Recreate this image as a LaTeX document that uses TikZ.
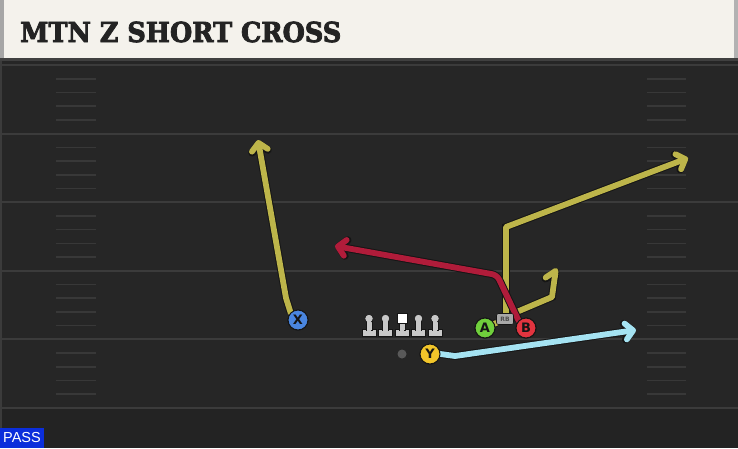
\documentclass[tikz,border=0pt]{standalone}
\usepackage{fontspec}
\setmainfont{DejaVu Sans}
\newfontfamily\titlefont[BoldFeatures={FakeBold=3}]{DejaVu Serif}
\newfontfamily\passfont{Liberation Sans}
\usetikzlibrary{arrows.meta}
\definecolor{fieldbg}{HTML}{262626}
\definecolor{titlebg}{HTML}{F4F2EC}
\definecolor{titletext}{HTML}{232323}
\definecolor{yardcol}{HTML}{3B3B3B}
\definecolor{hashcol}{HTML}{383838}
\definecolor{yroute}{HTML}{BDB54A}
\definecolor{rroute}{HTML}{B01C3A}
\definecolor{broute}{HTML}{A5E3F2}
\definecolor{xcol}{HTML}{4A86E0}
\definecolor{acol}{HTML}{70CF3C}
\definecolor{bcol}{HTML}{E2343F}
\definecolor{ycol}{HTML}{F2C52A}
\definecolor{rbcol}{HTML}{A8A8A8}
\definecolor{passblue}{HTML}{0B2EDB}
\definecolor{linecol}{HTML}{C8C8C8}
\definecolor{outl}{HTML}{151515}
\tikzset{
  yardline/.style={draw=yardcol, line width=2pt},
  hashmark/.style={draw=hashcol, line width=1.6pt},
  route/.style={line width=5.8pt, line cap=round, line join=round,
    preaction={draw=outl, line width=7.8pt}},
  tipped/.style={-{Straight Barb[length=7.5pt,width=16pt,round]}},
  harpoon/.style={-{Straight Barb[length=8pt,width=18pt,left,round]}},
  player/.style={circle, minimum size=20pt, inner sep=0pt, draw=outl, line width=1pt,
    font=\bfseries\fontsize{13}{13}\selectfont, text=outl},
  rbtag/.style={rounded corners=2pt, fill=rbcol, draw=outl, line width=0.6pt, minimum width=17pt,
    minimum height=11pt, inner sep=0pt, font=\bfseries\fontsize{6}{6}\selectfont, text=black!70},
  lineman/.pic={
    \fill[linecol, draw=outl, line width=0.6pt] (-7,329.5) rectangle (7,336);
    \fill[linecol, draw=outl, line width=0.6pt] (-3,320) rectangle (3,330);
    \fill[linecol, draw=outl, line width=0.6pt] (0,318.5) circle (4.2);
    \fill[linecol] (-2.4,320.5) rectangle (2.4,330.6);
  },
  centerman/.pic={
    \fill[linecol, draw=outl, line width=0.6pt] (-7,329.5) rectangle (7,336);
    \fill[linecol, draw=outl, line width=0.6pt] (-3,322) rectangle (3,330);
    \fill[white, draw=outl, line width=0.6pt] (-5.2,313.5) rectangle (5.2,323);
    \fill[linecol] (-2.4,323.5) rectangle (2.4,330.6);
  }
}
\begin{document}
\begin{tikzpicture}[x=1pt,y=-1pt]
\useasboundingbox (0,0) rectangle (738,448);
% field
\fill[fieldbg] (0,0) rectangle (738,448);
\fill[fieldbg!92!black] (0,409) rectangle (738,448);
\fill[yardcol] (0,60) rectangle (2,448);
% yard lines
\foreach \k in {0,...,5}
  \draw[yardline] (0,65+68.6*\k) -- (738,65+68.6*\k);
% hash marks
\foreach \k in {0,...,4}
  \foreach \m in {1,...,4}{
    \draw[hashmark] (56,65+68.6*\k+13.72*\m) -- (96,65+68.6*\k+13.72*\m);
    \draw[hashmark] (647,65+68.6*\k+13.72*\m) -- (686,65+68.6*\k+13.72*\m);
  }
% title bar
\fill[black!75] (0,57) rectangle (738,61);
\fill[titlebg] (0,0) rectangle (738,58);
\fill[gray!70] (0,0) rectangle (4,58);
\fill[gray!60] (734,0) rectangle (738,58);
\node[anchor=base west, inner sep=0pt, text=titletext, xscale=0.93,
  font=\titlefont\bfseries\fontsize{27.5}{27.5}\selectfont] (title) at (20,42) {MTN Z SHORT CROSS};
% players (placement)
\node[player, fill=xcol] (X) at (298,320) {X};
\node[player, fill=acol] (A) at (485,328) {A};
\node[player, fill=bcol] (B) at (526,328) {B};
\node[player, fill=ycol] (Y) at (430,354) {Y};
\node[rbtag] (RB) at (505,319) {RB};
\node[circle, fill=gray!70!black, minimum size=9pt, inner sep=0pt] (ball) at (402,354) {};
% route points
\coordinate (xbend) at (286,298);
\coordinate (xtip) at (258,140);
\coordinate (zcorner) at (506,227);
\coordinate (ztip) at (688,158);
\coordinate (rbflat) at (552,297);
\coordinate (rbtip) at (556,268);
\coordinate (bbend) at (497,275);
\coordinate (btip) at (335,246);
\coordinate (ybend) at (455,356);
\coordinate (ytip) at (636,330);
% routes
\draw[route, draw=yroute, tipped] (X.north west) -- (xbend) -- (xtip);
\draw[route, draw=yroute] (A) -- (RB);
\draw[route, draw=yroute, tipped] (RB.north -| zcorner) -- (zcorner) -- (ztip);
\draw[route, draw=yroute, harpoon] (RB.north east) -- (rbflat) -- (rbtip);
\draw[route, draw=rroute, tipped, rounded corners=5pt] (B.north west) -- (bbend) -- (btip);
\draw[route, draw=broute, tipped] (Y.east) -- (ybend) -- (ytip);
% players drawn over routes
\node[player, fill=xcol] at (X) {X};
\node[player, fill=acol] at (A) {A};
\node[player, fill=bcol] at (B) {B};
\node[player, fill=ycol] at (Y) {Y};
\node[rbtag] at (RB) {RB};
% offensive line
\pic at (369,0) {lineman};
\pic at (385.5,0) {lineman};
\pic at (402,0) {centerman};
\pic at (418.5,0) {lineman};
\pic at (435,0) {lineman};
% pass label
\node[fill=passblue, text=white, anchor=south west, inner xsep=3pt, minimum height=20pt,
  font=\passfont\fontsize{14.5}{14.5}\selectfont] (pass) at (0,448) {PASS};
\end{tikzpicture}
\end{document}
